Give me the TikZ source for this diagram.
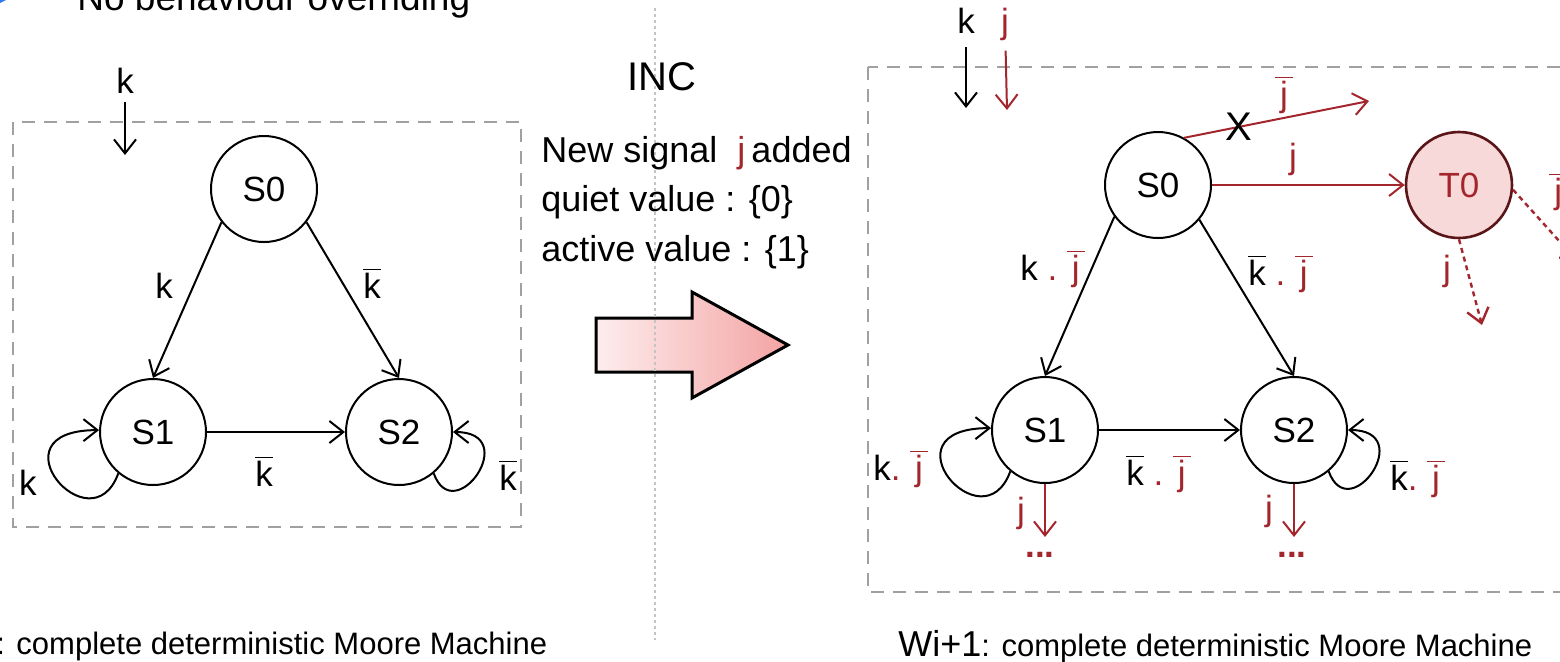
\documentclass[tikz,border=0pt]{standalone}
\usepackage{fontspec}
\setmainfont{Liberation Sans}
\usepackage{xcolor}
\usetikzlibrary{arrows.meta}
\definecolor{SigRed}{HTML}{A3262C}
\definecolor{SigFill}{HTML}{F8D9D9}
\definecolor{FrameGrey}{HTML}{A0A0A0}
\definecolor{SplitGrey}{HTML}{C4C4C4}
\definecolor{BulletBlue}{HTML}{2F7BEF}
\definecolor{ArrowLight}{HTML}{FDEDED}
\definecolor{ArrowDeep}{HTML}{F4A3A3}
\newcommand{\fsz}[1]{\fontsize{#1}{#1}\selectfont}
\newcommand{\negsig}[1]{$\overline{\mbox{\vphantom{k}\makebox[0.5em]{#1}}}$}
\newcommand{\kneg}{\negsig{k}}
\newcommand{\jneg}{\textcolor{SigRed}{\negsig{j}}}
\newcommand{\reddot}{\textcolor{SigRed}{.}}

\begin{document}
\begin{tikzpicture}[x=0.5pt,y=0.5pt,
  font=\fsz{17.5},
  state/.style={circle,draw=black,line width=1pt,minimum size=53pt,inner sep=0pt},
  newstate/.style={state,draw=SigRed!55!black,fill=SigFill,text=SigRed,line width=1.3pt},
  flow/.style={-{Straight Barb[length=7pt,width=11pt]},line width=1pt},
  addflow/.style={flow,draw=SigRed},
  tryflow/.style={addflow,line width=1.2pt,dash pattern=on 2.5pt off 2pt},
  lbl/.style={inner sep=0pt,anchor=base},
  lblw/.style={inner sep=0pt,anchor=base west},
  frame/.style={draw=FrameGrey,line width=1.2pt,dash pattern=on 6.5pt off 4.5pt}
]
\useasboundingbox (0,0) rectangle (1560,-661);

\fill[BulletBlue] (0,-3) -- (8,1) -- (0,1) -- cycle;
\node[lblw,font=\fsz{18.5}] (title) at (77,-10) {No behaviour overriding};

\draw[frame] (13,-122) rectangle (521,-527);
\node[lbl] (kin) at (125,-93) {k};
\coordinate (kend) at (125,-155);
\draw[flow,shorten <=4.5pt] (kin) -- (kend);

\node[state] (s0) at (264,-189) {S0};
\node[state] (s1) at (153,-432) {S1};
\node[state] (s2) at (399,-432) {S2};
\draw[flow] (s0.218) -- (s1.north);
\draw[flow] (s0.322) -- (s2.north);
\draw[flow] (s1) -- (s2);
\draw[flow] (s1.230) .. controls +(250:40pt) and +(180:55pt) .. (s1.178);
\draw[flow] (s2.310) .. controls +(-70:30pt) and +(0:35pt) .. (s2.east);
\node[lbl] (lk1) at (164,-298) {k};
\node[lbl] (lk2) at (372,-298) {\kneg};
\node[lbl] (lk3) at (264,-486) {\kneg};
\node[lbl] (lk4) at (28,-495) {k};
\node[lbl] (lk5) at (508,-490) {\kneg};
\node[lblw,font=\fsz{15.5}] (capl) at (-4,-654) {: complete deterministic Moore Machine};

\draw[line width=1.5pt,left color=ArrowLight,right color=ArrowDeep]
  (596,-318) -- (692,-318) -- (692,-292) -- (788,-345) -- (692,-398) -- (692,-372) -- (596,-372) -- cycle;
\draw[SplitGrey,line width=1.2pt,dash pattern=on 1.5pt off 1.5pt] (655,-8) -- (655,-640);
\node[lbl,font=\fsz{20}] (inc) at (662,-90) {INC};
\node[lblw,font=\fsz{18}] (sig1) at (541,-162) {New signal\ \ \textcolor{SigRed}{j}\,added};
\node[lblw,font=\fsz{18}] (sig2) at (541,-211) {quiet value : \{0\}};
\node[lblw,font=\fsz{18}] (sig3) at (541,-261) {active value : \{1\}};

\draw[frame] (868,-67) rectangle (1580,-592);
\node[lbl] (kin2) at (966,-33) {k};
\node[lbl,text=SigRed] (jin) at (1005,-33) {j};
\coordinate (kend2) at (966,-108);
\coordinate (jend) at (1007,-110);
\draw[flow,shorten <=7pt] (kin2) -- (kend2);
\draw[addflow,shorten <=5pt] (jin) -- (jend);

\node[state] (s0r) at (1158,-185) {S0};
\node[newstate] (t0) at (1459,-185) {T0};
\node[state] (s1r) at (1045,-430) {S1};
\node[state] (s2r) at (1294,-430) {S2};
\draw[flow] (s0r.216) -- (s1r.north);
\draw[flow] (s0r.320) -- (s2r.north);
\draw[flow] (s1r) -- (s2r);
\draw[flow] (s1r.230) .. controls +(250:40pt) and +(180:55pt) .. (s1r.178);
\draw[flow] (s2r.310) .. controls +(-70:30pt) and +(0:35pt) .. (s2r.east);
\coordinate (lost) at (1369,-101);
\draw[addflow] (s0r.61) -- (lost);
\node[font=\fsz{20}] (cross) at (1239,-127) {X};
\draw[addflow] (s0r) -- (t0);
\coordinate (t0down) at (1482,-325);
\coordinate (t0side) at (1578,-262);
\draw[tryflow] (t0.south) -- (t0down);
\draw[tryflow] (t0.-5) -- (t0side);
\coordinate (s1out) at (1045,-537);
\coordinate (s2out) at (1294,-537);
\draw[addflow] (s1r.south) -- (s1out);
\draw[addflow] (s2r.south) -- (s2out);

\node[lbl] (lj1) at (1284,-106) {\jneg};
\node[lbl,text=SigRed] (lj2) at (1293,-168) {j};
\node[lbl,text=SigRed] (lj3) at (1447,-280) {j};
\node[lblw] (lj4) at (1549,-203) {\jneg};
\node[lblw] (lkj1) at (1020,-280) {k\ \reddot\ \jneg};
\node[lblw] (lkj2) at (1248,-285) {\kneg\ \reddot\ \jneg};
\node[lblw] (lkj3) at (1126,-485) {\kneg\ \reddot\ \jneg};
\node[lblw] (lkj4) at (873,-480) {k\reddot\ \jneg};
\node[lblw] (lkj5) at (1390,-490) {\kneg\reddot\ \jneg};
\node[lbl,text=SigRed] (lj5) at (1021,-522) {j};
\node[lbl,text=SigRed] (lj6) at (1269,-520) {j};
\node[lbl,text=SigRed,font=\fsz{17.5}\bfseries] (more1) at (1040,-557) {...};
\node[lbl,text=SigRed,font=\fsz{17.5}\bfseries] (more2) at (1292,-557) {...};
\node[lblw] (capr) at (898,-656) {\fsz{18}Wi+1\fsz{15.5}: complete deterministic Moore Machine};
\end{tikzpicture}
\end{document}
